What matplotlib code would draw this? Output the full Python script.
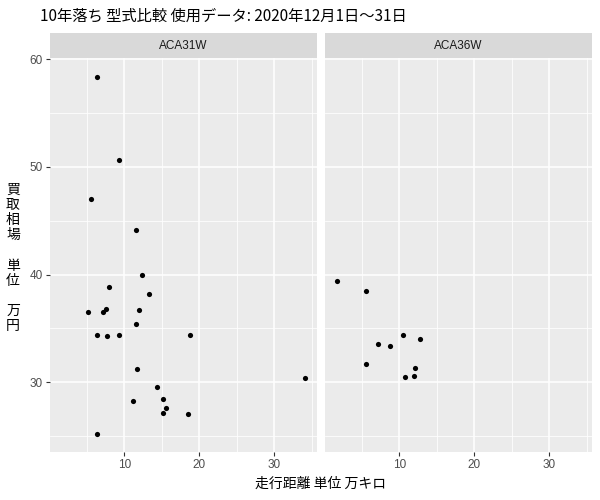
import matplotlib
matplotlib.use("Agg")
import matplotlib.pyplot as plt

plt.rcParams['font.family'] = ['Noto Sans CJK JP', 'DejaVu Sans']

# facet labels
models = ["ACA31W", "ACA36W"]

# ACA31W: mileage (10k km) and price (10k yen)
dist_31 = [6.4, 9.3, 5.6, 11.6, 12.3, 7.9, 13.3, 5.2, 7.1, 7.5, 11.9, 11.5,
           6.3, 7.7, 9.3, 18.8, 11.7, 34.1, 14.4, 11.2, 15.2, 15.5, 15.1, 18.5, 6.3]
price_31 = [58.4, 50.6, 47.0, 44.1, 40.0, 38.8, 38.2, 36.5, 36.5, 36.8, 36.7, 35.4,
            34.4, 34.3, 34.4, 34.4, 31.2, 30.4, 29.5, 28.2, 28.4, 27.6, 27.1, 27.0, 25.2]

# ACA36W
dist_36 = [1.7, 5.5, 10.5, 12.7, 7.1, 8.8, 5.6, 12.1, 12.0, 10.7]
price_36 = [39.4, 38.5, 34.4, 34.0, 33.5, 33.4, 31.7, 31.3, 30.6, 30.5]

xticks = [10, 20, 30]
yticks = [30, 40, 50, 60]

fig = plt.figure(figsize=(6, 5), dpi=100)
fig.patch.set_facecolor("white")

W, H = 600, 500
panels = [(50, 317), (325, 592)]
top, bottom = 58.3, 452
strip_top = 33
latin = ["Liberation Sans", "DejaVu Sans"]

series = [(dist_31, price_31), (dist_36, price_36)]

for i, ((x0, x1), (xs, ys), name) in enumerate(zip(panels, series, models)):
    ax = fig.add_axes([x0 / W, 1 - bottom / H, (x1 - x0) / W, (bottom - top) / H])
    ax.set_facecolor("#EBEBEB")
    ax.set_xlim(0.08, 35.7)
    ax.set_ylim(23.5, 60.1)
    for v in [5, 15, 25, 35]:
        ax.axvline(v, color="white", lw=0.55, zorder=0)
    for v in [25, 35, 45, 55]:
        ax.axhline(v, color="white", lw=0.55, zorder=0)
    for v in xticks:
        ax.axvline(v, color="white", lw=1.1, zorder=0)
    for v in yticks:
        ax.axhline(v, color="white", lw=1.1, zorder=0)
    ax.scatter(xs, ys, s=14, color="black", zorder=3, linewidths=0)
    for sp in ax.spines.values():
        sp.set_visible(False)
    ax.set_xticks(xticks)
    ax.set_yticks(yticks)
    ax.tick_params(colors="#333333", labelcolor="#4D4D4D", labelsize=8.5,
                   length=3, width=0.8, pad=2)
    for lab in ax.get_xticklabels() + ax.get_yticklabels():
        lab.set_family(latin)
    if i == 1:
        ax.tick_params(axis="y", left=False, labelleft=False)

    # facet strip
    sx = fig.add_axes([x0 / W, 1 - top / H, (x1 - x0) / W, (top - strip_top) / H])
    sx.set_facecolor("#D9D9D9")
    sx.set_xticks([])
    sx.set_yticks([])
    for sp in sx.spines.values():
        sp.set_visible(False)
    sx.text(0.5, 0.5, name, ha="center", va="center", fontsize=8.5,
            color="#1A1A1A", family=latin)

fig.text(40 / W, 1 - 16 / H, "10年落ち 型式比較 使用データ: 2020年12月1日～31日",
         ha="left", va="center", fontsize=11, color="black")
fig.text(321 / W, 1 - 484 / H, "走行距離 単位 万キロ", ha="center", va="center",
         fontsize=10, color="black")
fig.text(13 / W, 1 - 258 / H, "買\n取\n相\n場\n\n単\n位\n\n万\n円", ha="center",
         va="center", fontsize=10, color="black", linespacing=1.1)

fig.savefig("out.png", dpi=100)
